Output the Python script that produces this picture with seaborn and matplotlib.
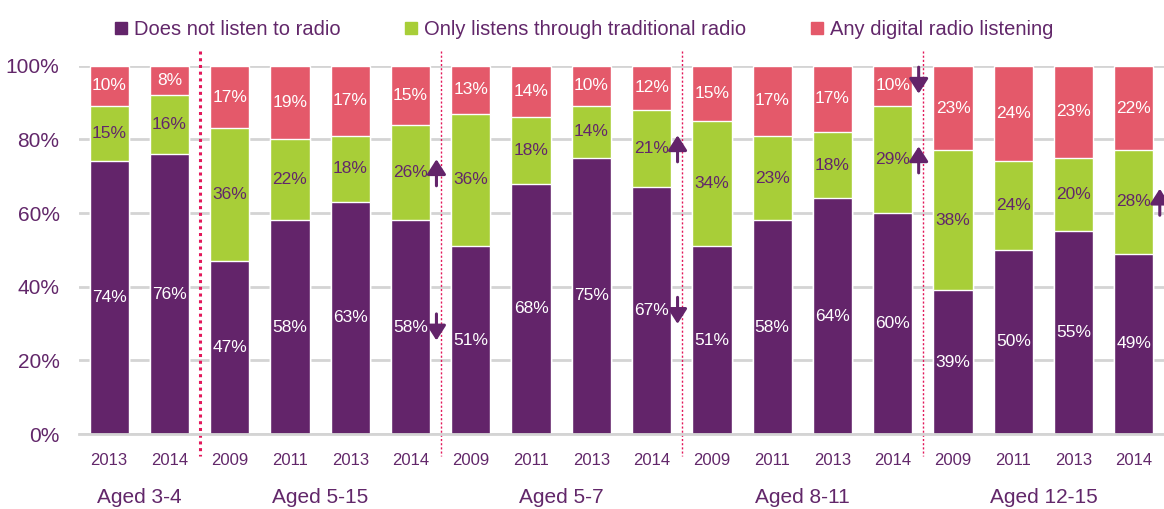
import numpy as np
import pandas as pd
import seaborn as sns
import matplotlib.pyplot as plt
from matplotlib.patches import Patch

# data
years = ['2013', '2014',
         '2009', '2011', '2013', '2014',
         '2009', '2011', '2013', '2014',
         '2009', '2011', '2013', '2014',
         '2009', '2011', '2013', '2014']
groups = ['Aged 3-4', 'Aged 5-15', 'Aged 5-7', 'Aged 8-11', 'Aged 12-15']
group_sizes = [2, 4, 4, 4, 4]

no_radio = [74, 76, 47, 58, 63, 58, 51, 68, 75, 67, 51, 58, 64, 60, 39, 50, 55, 49]
traditional = [15, 16, 36, 22, 18, 26, 36, 18, 14, 21, 34, 23, 18, 29, 38, 24, 20, 28]
digital = [10, 8, 17, 19, 17, 15, 13, 14, 10, 12, 15, 17, 17, 10, 23, 24, 23, 22]

series_names = ['Does not listen to radio',
                'Only listens through traditional radio',
                'Any digital radio listening']

# significant change arrows: (bar, series, direction)
arrows = [(5, 'traditional', 'up'), (5, 'no_radio', 'down'),
          (9, 'traditional', 'up'), (9, 'no_radio', 'down'),
          (13, 'digital', 'down'), (13, 'traditional', 'up'),
          (17, 'traditional', 'up')]

purple = '#63246A'
green = '#A8CE38'
red = '#E4596A'
txt = '#62276A'
grey = '#D4D4D4'
sep_color = '#E2185A'

sns.set_style('white')
plt.rcParams['font.family'] = ['Liberation Sans', 'DejaVu Sans']

n = len(years)
df = pd.DataFrame({
    'pos': range(n),
    'no_radio': no_radio,
    'stack2': np.add(no_radio, traditional),
    # shares add up to 100% (labels are rounded)
    'total': [100] * n,
})

fig = plt.figure(figsize=(11.64, 5.09), dpi=100)
ax = fig.add_axes([79 / 1164, 1 - 434 / 509, 1 - 79 / 1164, (434 - 65.7) / 509])

sns.barplot(data=df, x='pos', y='total', color=red, saturation=1, width=0.65, errorbar=None, ax=ax)
sns.barplot(data=df, x='pos', y='stack2', color=green, saturation=1, width=0.65, errorbar=None, ax=ax)
sns.barplot(data=df, x='pos', y='no_radio', color=purple, saturation=1, width=0.65, errorbar=None, ax=ax)

ax.set_xlim(-0.5, n - 0.5)
ax.set_ylim(0, 100)
ax.set_xlabel('')
ax.set_ylabel('')

# value labels
centers = {}
for i in range(n):
    c1 = no_radio[i] / 2
    c2 = no_radio[i] + traditional[i] / 2
    c3 = (no_radio[i] + traditional[i] + 100) / 2
    centers[(i, 'no_radio')] = c1
    centers[(i, 'traditional')] = c2
    centers[(i, 'digital')] = c3
    ax.text(i, c1, f'{no_radio[i]}%', ha='center', va='center', color='white', fontsize=12.5)
    ax.text(i, c2, f'{traditional[i]}%', ha='center', va='center', color=txt, fontsize=12.5)
    ax.text(i, c3, f'{digital[i]}%', ha='center', va='center', color='white', fontsize=12.5)

# arrows
for i, s, d in arrows:
    yc = centers[(i, s)]
    if s == 'digital':
        yc = 96
    y0, y1 = (yc - 3.6, yc + 3.6) if d == 'up' else (yc + 3.6, yc - 3.6)
    ax.annotate('', xy=(i + 0.43, y1), xytext=(i + 0.43, y0),
                arrowprops=dict(arrowstyle='-|>,head_length=0.5,head_width=0.32',
                                color=purple, lw=2.2, mutation_scale=18,
                                shrinkA=0, shrinkB=0),
                annotation_clip=False)

# grid and axes
ax.set_yticks(range(0, 101, 20))
ax.set_yticklabels([f'{v}%' for v in range(0, 101, 20)])
ax.yaxis.grid(True, color=grey, lw=2)
ax.xaxis.grid(False)
ax.set_axisbelow(True)
for sp in ['left', 'right', 'top']:
    ax.spines[sp].set_visible(False)
ax.spines['bottom'].set_color(grey)
ax.spines['bottom'].set_linewidth(2)

ax.set_xticks(range(n))
ax.set_xticklabels(years)
ax.set_xticks(np.arange(-0.5, n, 1), minor=True)
ax.tick_params(axis='x', which='major', length=0, pad=14, labelsize=12, labelcolor=txt)
ax.tick_params(axis='x', which='minor', length=7, width=2, color=grey)
ax.tick_params(axis='y', length=0, pad=14, labelsize=15, labelcolor=txt)

# group separators and group names
bounds = np.cumsum(group_sizes)
starts = bounds - np.array(group_sizes)
for k, b in enumerate(bounds[:-1]):
    if k == 0:
        ax.plot([b - 0.5, b - 0.5], [104, -6], color=sep_color, lw=2.2,
                ls=(0, (1, 1.2)), clip_on=False)
    else:
        ax.plot([b - 0.5, b - 0.5], [104, -6], color=sep_color, lw=1,
                ls=(0, (1.5, 1.5)), clip_on=False)
for g, s0, size in zip(groups, starts, group_sizes):
    ax.text(s0 + (size - 1) / 2, -0.172, g, transform=ax.get_xaxis_transform(),
            ha='center', va='center', fontsize=15, color=txt)

handles = [Patch(color=purple), Patch(color=green), Patch(color=red)]
fig.legend(handles, series_names, loc='upper center', bbox_to_anchor=(584 / 1164, 1 - 2 / 509),
           ncol=3, frameon=False, fontsize=14.5, handlelength=0.6, handleheight=0.6,
           handletextpad=0.35, columnspacing=3.2, labelcolor=txt)

fig.savefig('out.png', dpi=100)
